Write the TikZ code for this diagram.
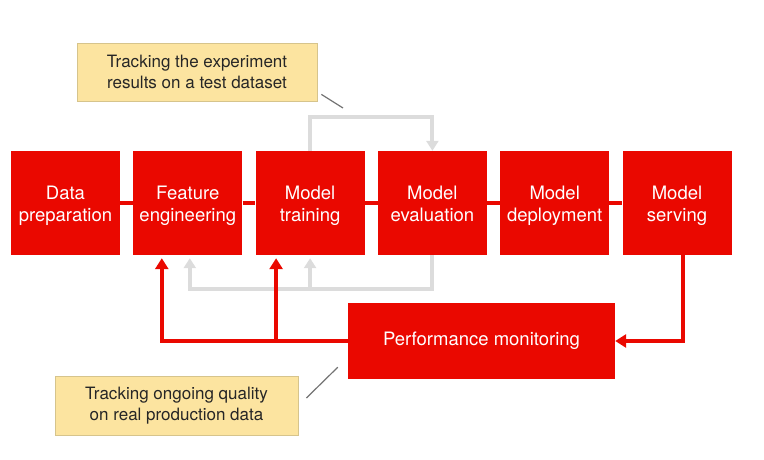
\documentclass[tikz,border=0pt]{standalone}
\usepackage{fontspec}
\setmainfont{TeX Gyre Heros}
\usetikzlibrary{arrows.meta}

\begin{document}
\begin{tikzpicture}[x=1pt,y=-1pt,
	stage/.style={fill=STG,text=white,inner sep=0pt,align=center,minimum width=109pt,minimum height=104pt,font=\fontsize{18.5}{22}\selectfont},
	note/.style={fill=NTE,draw=NTB,line width=0.8pt,text=black!85,inner sep=0pt,align=center,font=\fontsize{17}{20.5}\selectfont},
	flow/.style={STG,line width=4.5pt},
	back/.style={STG,line width=4pt,-{Triangle[length=11pt,width=13pt]}},
	check/.style={CHK,line width=4pt},
	tip/.style={-{Triangle[length=10pt,width=12pt]}},
	pointer/.style={black!55,line width=1.2pt}
]
\definecolor{STG}{RGB}{234,8,0}
\definecolor{NTE}{RGB}{252,228,160}
\definecolor{NTB}{RGB}{214,196,140}
\definecolor{CHK}{RGB}{220,220,220}

\useasboundingbox (0,0) rectangle (764,460);

% Pipeline stages
\foreach \n/\x/\t/\u in {prep/65.5/Data/preparation,feat/187.8/Feature/engineering,train/310.1/Model/training,eval/432.4/Model/evaluation,deploy/554.7/Model/deployment,serve/677/Model/serving}{
	\node[stage] (\n) at (\x,203) {\rule{0pt}{21.4pt}\t\\\u\strut};
}
\node[stage,minimum width=267pt,minimum height=76pt] (pm) at (481.5,341) {Performance monitoring};

\foreach \a/\b in {prep/feat,feat/train,train/eval,eval/deploy,deploy/serve}{
	\draw[flow] (\a) -- (\b);
}

% Offline loop
\coordinate (loopB) at ([yshift=-34pt]eval.south);
\draw[check,tip] (train.north) -- ++(0,-34) -| (eval.north);
\draw[check,tip,shorten >=3pt] (eval.south) -- (loopB) -| ([xshift=2pt]feat.south);
\draw[check,tip,shorten >=3pt] (train.south |- loopB) -- (train.south);

% Online loop
\coordinate (fbT) at ([xshift=-34pt]train.south);
\draw[back] ([xshift=6pt]serve.south) |- (pm.east);
\draw[back,shorten >=3pt] (pm.west) -| ([xshift=-26pt]feat.south);
\draw[back,shorten >=3pt] (fbT |- pm.west) -- (fbT);

% Notes
\node[note,minimum width=240pt,minimum height=58pt] (note1) at (197,72) {Tracking the experiment\\results on a test dataset};
\node[note,minimum width=243pt,minimum height=59pt] (note2) at (176.5,405.5) {Tracking ongoing quality\\on real production data};
\coordinate (n1a) at ([shift={(4,-7)}]note1.south east);
\coordinate (n1b) at (343,108);
\coordinate (n2a) at ([shift={(8,-7.5)}]note2.east);
\coordinate (n2b) at ([shift={(-10,-12)}]pm.south west);
\draw[pointer] (n1a) -- (n1b);
\draw[pointer] (n2a) -- (n2b);

\end{tikzpicture}
\end{document}
